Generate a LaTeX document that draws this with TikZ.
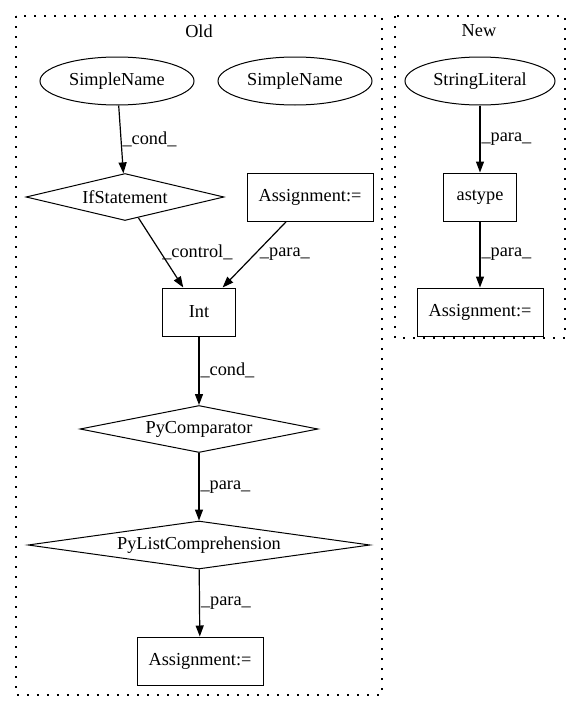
\documentclass[tikz,border=0pt]{standalone}
\usepackage{fontspec}
\setmainfont{Liberation Serif}
\usetikzlibrary{shapes.geometric,arrows.meta}
\begin{document}
\begin{tikzpicture}[x=1pt,y=-1pt,
  font=\fontsize{18.3}{22}\selectfont,
  every node/.style={line width=1pt},
  box/.style={draw, rectangle, inner sep=0pt, minimum width=#1, minimum height=48},
  oval/.style={draw, ellipse, inner sep=0pt, minimum width=#1, minimum height=48},
  dia/.style={draw, diamond, inner sep=0pt, aspect=#1},
  edge/.style={line width=1.2pt, -{Triangle[length=11pt,width=8pt]}},
  elab/.style={anchor=west, inner sep=1pt, pos=0.5},
  cluster/.style={line width=1.1pt, dash pattern=on 1.6pt off 8.4pt}]
\useasboundingbox[fill=white] (0,0) rectangle (581,712);
% clusters
\draw[cluster] (16,16) rectangle (382,695);
\draw[cluster] (395,16) rectangle (565,338);
\node (oldlbl) at (199,31) {Old};
\node (newlbl) at (479,31) {New};
% Old nodes
\node[oval=154] (sn1) at (117,81) {SimpleName};
\node[oval=154] (sn2) at (295,81) {SimpleName};
\node[dia=4.2, minimum width=198, minimum height=47] (ifs) at (125,197) {IfStatement};
\node[box=126] (asg1) at (310,197) {Assignment:=};
\node[box=73] (int) at (199,312) {Int};
\node[dia=5, minimum width=238, minimum height=47] (pycmp) at (199,429) {PyComparator};
\node[dia=7, minimum width=342, minimum height=48] (pylc) at (199,545) {PyListComprehension};
\node[box=126] (asg2) at (200,661) {Assignment:=};
% New nodes
\node[oval=150] (sl) at (480,81) {StringLiteral};
\node[box=73] (astype) at (480,197) {astype};
\node[box=126] (asg3) at (480,312) {Assignment:=};
% edges
\draw[edge] (sn1) -- node[elab] {\_cond\_} (ifs);
\draw[edge] (ifs) -- node[elab] {\_control\_} (int);
\draw[edge] (asg1) -- node[elab, xshift=4pt] {\_para\_} (int);
\draw[edge] (int) -- node[elab] {\_cond\_} (pycmp);
\draw[edge] (pycmp) -- node[elab] {\_para\_} (pylc);
\draw[edge] (pylc) -- node[elab] {\_para\_} (asg2);
\draw[edge] (sl) -- node[elab] {\_para\_} (astype);
\draw[edge] (astype) -- node[elab] {\_para\_} (asg3);
\end{tikzpicture}
\end{document}
